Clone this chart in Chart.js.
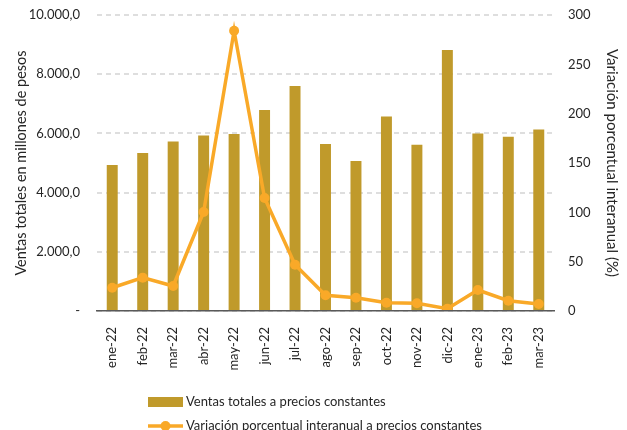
<!DOCTYPE html>
<html lang="es">
<head>
<meta charset="utf-8">
<title>Ventas totales a precios constantes</title>
<script src="https://cdn.jsdelivr.net/npm/chart.js@4.4.1/dist/chart.umd.min.js"></script>
<style>
  html, body { margin: 0; padding: 0; background: #ffffff; }
  #wrap { width: 627px; height: 430px; position: relative; }
</style>
</head>
<body>
<div id="wrap"><canvas id="ventasChart"></canvas></div>
<script>
// Meses (eje x)
const MESES = ["ene-22", "feb-22", "mar-22", "abr-22", "may-22", "jun-22", "jul-22",
  "ago-22", "sep-22", "oct-22", "nov-22", "dic-22", "ene-23", "feb-23", "mar-23"];

// Ventas totales a precios constantes (millones de pesos)
const VENTAS = [4930, 5340, 5730, 5930, 5980, 6790, 7600,
  5640, 5070, 6570, 5620, 8820, 6000, 5890, 6130];

// Variacion porcentual interanual (%)
const VARIACION = [23.6, 33.8, 25.3, 100.3, 284, 114.5, 46.9,
  15.9, 13.5, 8.4, 7.8, 2.3, 21.3, 10.4, 7.1];

const LABEL_VENTAS = "Ventas totales a precios constantes";
const LABEL_VARIACION = "Variación porcentual interanual a precios constantes";

const COLOR_BAR = "#C09A2B";
const COLOR_LINE = "#F9A928";
const COLOR_GRID = "#d4d4d4";
const FONT = "Lato";

/**
 * 10000 -> "10.000,0", 0 -> "-"
 */
function formatMiles(v) {
  if (v === 0) return "-";
  const parts = v.toFixed(1).split(".");
  const ent = parts[0].replace(/\B(?=(\d{3})+(?!\d))/g, ".");
  return ent + "," + parts[1];
}

/**
 * Lineas de cuadricula discontinuas en cada marca del eje izquierdo.
 */
const dashedGrid = {
  id: "dashedGrid",
  beforeDatasetsDraw(chart) {
    const ctx = chart.ctx;
    const scale = chart.scales.y;
    const area = chart.chartArea;
    ctx.save();
    ctx.strokeStyle = COLOR_GRID;
    ctx.lineWidth = 1.5;
    ctx.setLineDash([5, 4]);
    scale.ticks.forEach((t) => {
      const y = Math.round(scale.getPixelForValue(t.value));
      ctx.beginPath();
      ctx.moveTo(area.left, y);
      ctx.lineTo(area.right, y);
      ctx.stroke();
    });
    ctx.restore();
  },
};

/**
 * Leyenda vertical dibujada debajo del grafico.
 */
const stackedLegend = {
  id: "stackedLegend",
  afterDraw(chart) {
    const ctx = chart.ctx;
    const x0 = 148;
    const sw = 35;
    ctx.save();
    ctx.font = "13px " + FONT;
    ctx.textBaseline = "middle";
    ctx.textAlign = "left";

    // barra
    let y = 402;
    ctx.fillStyle = COLOR_BAR;
    ctx.fillRect(x0, y - 5, sw, 10);
    ctx.fillStyle = "#262626";
    ctx.fillText(chart.data.datasets[0].label, x0 + sw + 3, y);

    // linea
    y = 426;
    ctx.strokeStyle = COLOR_LINE;
    ctx.lineWidth = 3.5;
    ctx.beginPath();
    ctx.moveTo(x0, y);
    ctx.lineTo(x0 + sw, y);
    ctx.stroke();
    ctx.fillStyle = COLOR_LINE;
    ctx.beginPath();
    ctx.arc(x0 + sw / 2, y, 5, 0, Math.PI * 2);
    ctx.fill();
    ctx.fillStyle = "#262626";
    ctx.fillText(chart.data.datasets[1].label, x0 + sw + 3, y);
    ctx.restore();
  },
};

// fija el tamano de un eje y quita el relleno extra de sus etiquetas
function fixSize(prop, size) {
  return function (scale) {
    scale[prop] = size;
    scale.paddingTop = 0;
    scale.paddingBottom = 0;
    scale.paddingLeft = 0;
    scale.paddingRight = 0;
  };
}

function initVentasChart() {
  const ctx = document.getElementById("ventasChart");
  if (!ctx) return;

  new Chart(ctx, {
    data: {
      labels: MESES,
      datasets: [
        {
          type: "bar",
          label: LABEL_VENTAS,
          data: VENTAS,
          yAxisID: "y",
          backgroundColor: COLOR_BAR,
          borderWidth: 0,
          barPercentage: 0.36,
          categoryPercentage: 1,
          order: 2,
        },
        {
          type: "line",
          label: LABEL_VARIACION,
          data: VARIACION,
          yAxisID: "y1",
          borderColor: COLOR_LINE,
          backgroundColor: COLOR_LINE,
          borderWidth: 3.5,
          tension: 0,
          pointRadius: 5,
          pointBackgroundColor: COLOR_LINE,
          pointBorderWidth: 0,
          order: 1,
        },
      ],
    },
    options: {
      responsive: true,
      maintainAspectRatio: false,
      animation: false,
      layout: { padding: { top: 15, left: 0, right: 0, bottom: 0 } },
      plugins: {
        legend: { display: false },
        tooltip: { enabled: false },
      },
      scales: {
        x: {
          grid: { display: false, drawTicks: false },
          border: { color: "#595959", width: 1.5, z: 1 },
          ticks: {
            color: "#262626",
            font: { size: 13, family: FONT },
            minRotation: 90,
            maxRotation: 90,
            autoSkip: false,
            padding: 16,
          },
          afterFit: fixSize("height", 119),
        },
        y: {
          position: "left",
          min: 0,
          max: 10000,
          ticks: {
            stepSize: 2000,
            color: "#262626",
            font: { size: 13, family: FONT },
            padding: 17,
            callback: (v) => formatMiles(v),
          },
          grid: { display: false, drawTicks: false },
          border: { display: false },
          title: {
            display: true,
            text: "Ventas totales en millones de pesos",
            color: "#262626",
            font: { size: 14.5, family: FONT },
            padding: { top: 13, bottom: 0 },
          },
          afterFit: fixSize("width", 97),
        },
        y1: {
          position: "right",
          min: 0,
          max: 300,
          ticks: {
            stepSize: 50,
            color: "#262626",
            font: { size: 13, family: FONT },
            padding: 14,
          },
          grid: { display: false, drawTicks: false },
          border: { display: false },
          title: {
            display: true,
            text: "Variación porcentual interanual (%)",
            color: "#262626",
            font: { size: 15, family: FONT },
            padding: { top: 6, bottom: 0 },
          },
          afterFit: fixSize("width", 73),
        },
      },
    },
    plugins: [dashedGrid, stackedLegend],
  });
}

initVentasChart();
</script>
</body>
</html>
